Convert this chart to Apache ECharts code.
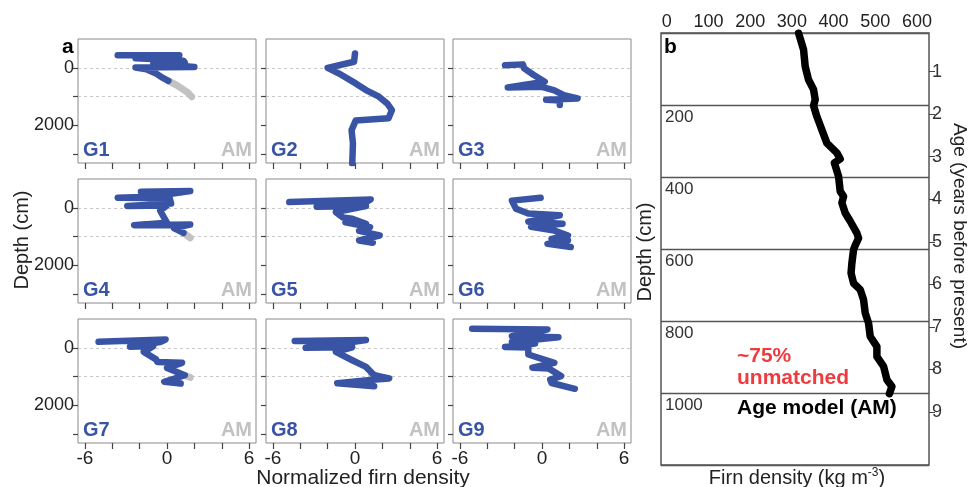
<!DOCTYPE html>
<html><head><meta charset="utf-8">
<script src="https://cdn.jsdelivr.net/npm/echarts@6/dist/echarts.min.js"></script>
<style>html,body{margin:0;padding:0;background:#fff}#c{width:968px;height:487px}</style>
</head><body><div id="c"></div><script>
// ---------- data ----------
const panelNames = ['G1','G2','G3','G4','G5','G6','G7','G8','G9'];
const densTicksA = [-6,-4,-2,0,2,4,6];
const densLabelsA = [-6,0,6];
const depthTicksA = [0,1000,2000,3000];
const depthLabelsA = [0,2000];
const refDepthsA = [0,1000];

const g1Blue = [[-3.6,-440],[0.9,-440],[0.8,-380],[-2.3,-330],[1.2,-250],[1.3,-180],[-1.0,-150],[2.0,-30],[-2.3,-10],[-1.5,50],[-0.8,200],[-0.3,350],[0.1,450]];
const g1Gray = [[0.1,450],[0.7,600],[1.5,850],[1.8,1000]];
const g2Blue = [[0,-500],[-0.07,-210],[-2.0,0],[-1.2,190],[0.05,540],[0.8,770],[1.75,1000],[2.35,1235],[2.7,1465],[2.45,1750],[0.05,1830],[-0.25,2160],[-0.15,2620],[-0.2,3320]];
const g2Gray = [];
const g3Blue = [[-2.7,-90],[-1.4,-120],[-1.3,20],[-0.6,250],[0.2,480],[-2.5,680],[0.0,660],[0.9,780],[1.6,950],[2.6,1060],[0.3,1110],[1.3,1130],[1.3,1290]];
const g3Gray = [];
const g4Blue = [[-1.9,-560],[1.7,-580],[1.6,-520],[0.2,-480],[0.0,-400],[-3.6,-350],[0.2,-330],[0.3,-150],[-2.9,-60],[0.0,-80],[-0.5,100],[0.0,520],[-2.4,600],[1.7,580],[0.5,700],[1.2,870]];
const g4Gray = [[1.2,870],[1.7,1040]];
const g5Blue = [[-4.8,-200],[1.15,-290],[0.8,-200],[-2.8,-40],[0.8,-60],[-1.4,150],[-0.9,330],[-0.2,380],[0.8,555],[-0.7,500],[1.1,670],[0.3,800],[1.8,960],[0.3,1130],[1.3,1210]];
const g5Gray = [];
const g6Blue = [[-0.1,-350],[-2.2,-250],[-2.1,-200],[-1.9,30],[-1.0,200],[1.3,260],[-1.0,480],[1.5,550],[-0.8,660],[0.9,790],[1.9,960],[0.7,1080],[1.9,1130],[0.4,1250],[2.1,1360]];
const g6Gray = [];
const g7Blue = [[-5.0,-210],[-0.1,-290],[-0.5,-200],[-2.7,-40],[-1.0,-60],[-1.7,140],[-0.8,400],[-0.7,490],[1.1,520],[0.0,700],[1.3,950],[-0.2,1180],[1.0,1240]];
const g7Gray = [[1.3,960],[1.7,1030]];
const g8Blue = [[-4.4,-240],[0.8,-270],[-0.2,-200],[-3.6,0],[-0.2,-20],[-1.4,140],[-0.2,430],[0.8,660],[1.4,950],[2.5,1060],[1.5,1100],[-1.3,1230],[1.4,1330]];
const g8Gray = [[1.2,900],[1.5,950]];
const g9Blue = [[-5.1,-660],[0.4,-640],[-0.2,-560],[-2.2,-400],[1.2,-370],[-2.2,-200],[-0.5,-150],[-2.7,-30],[-1.0,-10],[-1.0,230],[0.9,520],[-0.7,690],[0.5,720],[1.4,980],[0.6,1100],[0.7,1220],[2.4,1420]];
const g9Gray = [];

const blueSeries = [g1Blue,g2Blue,g3Blue,g4Blue,g5Blue,g6Blue,g7Blue,g8Blue,g9Blue];
const graySeries = [g1Gray,g2Gray,g3Gray,g4Gray,g5Gray,g6Gray,g7Gray,g8Gray,g9Gray];

const densTicksB = [0,100,200,300,400,500,600];
const depthLinesB = [200,400,600,800,1000];
const ageTicksB = [1,2,3,4,5,6,7,8,9];
const amDensity = [316,328,332,340,352,356,352,360,372,384,408,416,402,412,416,424,420,428,440,456,460,452,448,444,442,448,464,472,476,484,488,504,504,520,528,540,534];
const amDepth   = [0,46,93,130,157,185,202,232,269,306,333,350,361,398,440,454,472,500,523,556,570,590,602,639,667,695,713,741,778,806,843,871,899,926,963,982,1002];

// ---------- layout ----------
const FONT = "'Liberation Sans', Arial, sans-serif";
const BLUE = '#3a54a5';
const GRAY = '#c2c2c2';
const colLeft = [78, 266, 453];
const rowTop = [39, 179, 319];
const W = 178, H = 124;
const plain = v => String(v);

const grids = [], xAxes = [], yAxes = [], series = [], graphics = [];
for (let i = 0; i < 9; i++) {
  const r = Math.floor(i / 3), c = i % 3;
  const L = colLeft[c], T = rowTop[r];
  grids.push({left: L, top: T, width: W, height: H, show: true, borderColor: '#8a8a8a', borderWidth: 1});
  xAxes.push({
    type: 'value', gridIndex: i, min: -6.5, max: 6.5, position: 'bottom',
    axisLine: {show: false, onZero: false},
    axisTick: {show: true, customValues: densTicksA, length: 6, lineStyle: {color: '#444', width: 1.2}},
    axisLabel: {show: r === 2, customValues: densLabelsA, fontSize: 19, color: '#222', fontFamily: FONT, margin: 6, formatter: plain},
    splitLine: {show: false}
  });
  yAxes.push({
    type: 'value', gridIndex: i, inverse: true, min: -1000, max: 3300, position: 'left',
    axisLine: {show: false, onZero: false},
    axisTick: {show: true, customValues: depthTicksA, length: 5, lineStyle: {color: '#444', width: 1.2}},
    axisLabel: {show: c === 0, customValues: depthLabelsA, fontSize: 18, color: '#222', fontFamily: FONT, margin: 4, formatter: plain},
    splitLine: {show: false}
  });
  if (graySeries[i].length) {
    series.push({type: 'line', xAxisIndex: i, yAxisIndex: i, data: graySeries[i], symbol: 'none', silent: true,
      lineStyle: {color: GRAY, width: 7, cap: 'round', join: 'round'}, z: 2});
  }
  series.push({type: 'line', xAxisIndex: i, yAxisIndex: i, data: blueSeries[i], symbol: 'none', silent: true,
    lineStyle: {color: BLUE, width: 6.5, cap: 'round', join: 'round'}, z: 3,
    markLine: {silent: true, symbol: 'none', label: {show: false},
      lineStyle: {color: '#c8c8c8', type: [3, 3], width: 1},
      data: refDepthsA.map(d => ({yAxis: d})), z: 1}
  });
  graphics.push({type: 'text', x: L + 5, y: T + H - 3, z: 10,
    style: {text: panelNames[i], fill: BLUE, font: `bold 20px ${FONT}`, textAlign: 'left', textVerticalAlign: 'bottom'}});
  graphics.push({type: 'text', x: L + W - 4, y: T + H - 3, z: 10,
    style: {text: 'AM', fill: GRAY, font: `bold 20px ${FONT}`, textAlign: 'right', textVerticalAlign: 'bottom'}});
}

// panel b
const BL = 661, BT = 33, BW = 268, BH = 432;
grids.push({left: BL, top: BT, width: BW, height: BH, show: true, borderColor: '#555', borderWidth: 1.5});
xAxes.push({
  type: 'value', gridIndex: 9, position: 'top', min: -14, max: 629,
  axisLine: {show: false, onZero: false}, axisTick: {show: false}, splitLine: {show: false},
  axisLabel: {customValues: densTicksB, fontSize: 18, color: '#222', fontFamily: FONT, margin: 2, formatter: plain}
});
yAxes.push({
  type: 'value', gridIndex: 9, inverse: true, min: 0, max: 1200, interval: 200, position: 'left',
  axisLine: {show: false, onZero: false}, axisTick: {show: false},
  axisLabel: {inside: true, showMinLabel: false, showMaxLabel: false, verticalAlign: 'top', padding: [4, 0, 0, 0],
    fontSize: 17, color: '#333', fontFamily: FONT, margin: 4, formatter: plain},
  splitLine: {show: true, lineStyle: {color: '#555', width: 1.3}}
});
yAxes.push({
  type: 'value', gridIndex: 9, inverse: true, min: 0.09, max: 10.25, position: 'right',
  axisLine: {show: false, onZero: false},
  axisTick: {show: true, customValues: ageTicksB, length: 6, lineStyle: {color: '#444'}},
  axisLabel: {customValues: ageTicksB, fontSize: 18, color: '#333', fontFamily: FONT, margin: 3, formatter: plain},
  splitLine: {show: false}
});
series.push({type: 'line', xAxisIndex: 9, yAxisIndex: 9, symbol: 'none', silent: true,
  data: amDensity.map((d, k) => [d, amDepth[k]]),
  lineStyle: {color: '#000', width: 7.5, cap: 'round', join: 'round'}, z: 5});

// text annotations
graphics.push({type: 'text', x: 62, y: 37, z: 10, style: {text: 'a', fill: '#000', font: `bold 21px ${FONT}`, textAlign: 'left', textVerticalAlign: 'top'}});
graphics.push({type: 'text', x: 664, y: 37, z: 10, style: {text: 'b', fill: '#000', font: `bold 21px ${FONT}`, textAlign: 'left', textVerticalAlign: 'top'}});
graphics.push({type: 'text', x: 22, y: 240, rotation: Math.PI / 2, z: 10,
  style: {text: 'Depth (cm)', fill: '#222', font: `20px ${FONT}`, textAlign: 'center', textVerticalAlign: 'middle'}});
graphics.push({type: 'text', x: 645, y: 252, rotation: Math.PI / 2, z: 10,
  style: {text: 'Depth (cm)', fill: '#222', font: `20px ${FONT}`, textAlign: 'center', textVerticalAlign: 'middle'}});
graphics.push({type: 'text', x: 959, y: 236, rotation: -Math.PI / 2, z: 10,
  style: {text: 'Age (years before present)', fill: '#222', font: `19px ${FONT}`, textAlign: 'center', textVerticalAlign: 'middle'}});
graphics.push({type: 'text', x: 363, y: 478, z: 10,
  style: {text: 'Normalized firn density', fill: '#222', font: `21px ${FONT}`, textAlign: 'center', textVerticalAlign: 'middle'}});
graphics.push({type: 'text', x: 797, y: 478, z: 10,
  style: {rich: {n: {fontSize: 20, fontFamily: FONT, fill: '#222'}, s: {fontSize: 12, fontFamily: FONT, fill: '#222', verticalAlign: 'top', padding: [0,0,10,0]}},
    text: '{n|Firn density (kg m}{s|-3}{n|)}', textAlign: 'center', textVerticalAlign: 'middle'}});
graphics.push({type: 'text', x: 737, y: 345, z: 10,
  style: {text: '~75%\nunmatched', fill: '#ef3b3e', font: `bold 21px ${FONT}`, lineHeight: 22, textAlign: 'left', textVerticalAlign: 'top'}});
graphics.push({type: 'text', x: 737, y: 398, z: 10,
  style: {text: 'Age model (AM)', fill: '#000', font: `bold 21px ${FONT}`, textAlign: 'left', textVerticalAlign: 'top'}});

const chart = echarts.init(document.getElementById('c'), null, {renderer: 'canvas'});
chart.setOption({
  animation: false,
  backgroundColor: '#fff',
  textStyle: {fontFamily: FONT},
  grid: grids, xAxis: xAxes, yAxis: yAxes, series: series, graphic: graphics
});
</script></body></html>
